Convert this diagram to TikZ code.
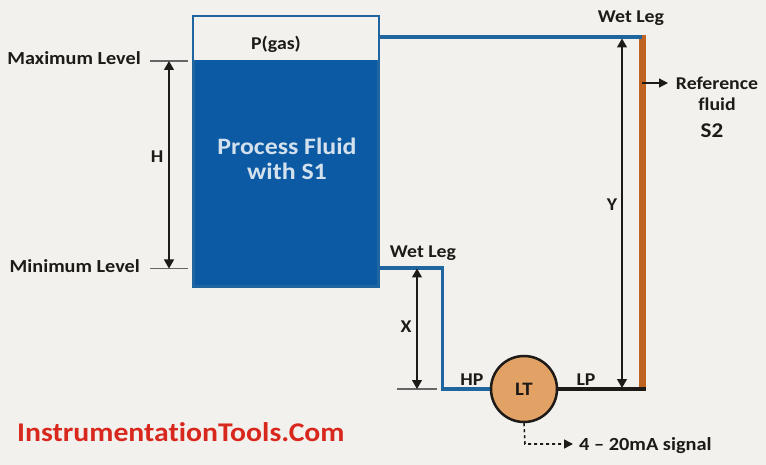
\documentclass[tikz,border=0pt]{standalone}
\usepackage{xcolor}
\usepackage{fontspec}
\setmainfont[FakeStretch=1.1, Ligatures=NoCommon]{Carlito}
\usetikzlibrary{positioning, arrows.meta, calc}
\definecolor{paper}{HTML}{F2F1EE}
\definecolor{tankblue}{HTML}{0C5AA3}
\definecolor{pipeblue}{HTML}{1F659F}
\definecolor{refbrown}{HTML}{BE6420}
\definecolor{ltorange}{HTML}{E3A265}
\definecolor{inkblack}{HTML}{1E1A18}
\definecolor{brandred}{HTML}{D8281E}
\tikzset{
  label text/.style={font=\bfseries\fontsize{18}{21}\selectfont, text=inkblack, inner sep=0pt},
  pipe/.style={draw=pipeblue, line width=3.5pt, line join=miter},
  tick/.style={draw=black!60, line width=1.1pt},
  dim/.style={draw=inkblack, line width=1.3pt, {Triangle[length=9pt,width=10pt]}-{Triangle[length=9pt,width=10pt]}}
}

\begin{document}
\begin{tikzpicture}[x=1pt, y=-1pt]
  \useasboundingbox[fill=paper] (0,0) rectangle (766,465);

  % tank
  \node[draw=pipeblue, fill=tankblue, line width=3pt, minimum width=185pt, minimum height=270pt,
        inner sep=0pt, outer sep=0pt] (tank) at (286,151.5) {};
  \node[fill=paper, minimum width=184pt, minimum height=42.5pt, inner sep=0pt] (gas) at (286,38.5) {};
  \node[label text] (gaslabel) at (276,44) {P(gas)};
  \node[align=center, font=\bfseries\fontsize{23.5}{25}\selectfont, text=tankblue!18!white, inner sep=0pt]
    (fluid) at (287,159) {Process Fluid\\with S1};

  % points on the lines
  \coordinate (maxleft) at (150,61);
  \coordinate (maxright) at (188,61);
  \coordinate (minleft) at (150,268.5);
  \coordinate (minright) at (188,268.5);
  \coordinate (topout) at (380,37);
  \coordinate (botout) at (380,268);
  \coordinate (bend) at (442.5,268);
  \coordinate (basebend) at (442.5,389);
  \coordinate (corner) at (642,389);
  \coordinate (reftop) at (642,35);
  \coordinate (xtick) at (397,389);
  \coordinate (xtickend) at (437,389);

  % transmitter
  \node[circle, draw=inkblack, fill=ltorange, line width=2.5pt, minimum size=66pt, inner sep=0pt,
        font=\bfseries\fontsize{19}{22}\selectfont, text=inkblack] (lt) at (524,389) {LT};

  % pipes
  \draw[pipe] (botout) -- (bend) -- (basebend) -- (lt.west);
  \draw[draw=refbrown, line width=7pt] (reftop) -- (corner);
  \draw[draw=inkblack, line width=3.5pt] (lt.east) -- ($(corner)+(3.5,0)$);
  \draw[pipe] (topout) -- (reftop |- topout);

  % levels
  \draw[tick] (maxleft) -- (maxright);
  \draw[tick] (minleft) -- (minright);
  \draw[tick] (xtick) -- (xtickend);
  \draw[dim] ($(maxleft)!0.5!(maxright)$) -- ($(minleft)!0.5!(minright)$);
  \draw[dim] ($(xtick)!0.5!(xtickend) + (0,-120.5)$) -- ($(xtick)!0.5!(xtickend)$);
  \draw[dim] (622,38.5) -- (622,388);

  % labels
  \node[label text, anchor=east, font=\bfseries\fontsize{18.4}{21}\selectfont] (maxlabel) at (141,58) {Maximum Level};
  \node[label text, anchor=east, font=\bfseries\fontsize{18.4}{21}\selectfont] (minlabel) at (140,266) {Minimum Level};
  \node[label text] (hlabel) at (157,157) {H};
  \node[label text] (xlabel) at (406,327) {X};
  \node[label text] (ylabel) at (612,205) {Y};
  \node[label text] (wettop) at (631,18) {Wet Leg};
  \node[label text] (wetbot) at (423,253) {Wet Leg};
  \node[label text] (hplabel) at (472,380) {HP};
  \node[label text] (lplabel) at (586,380) {LP};
  \node[align=center, font=\bfseries\fontsize{18}{21}\selectfont, text=inkblack, inner sep=0pt]
    (reflabel) at (717,94) {Reference\\fluid};
  \node[font=\bfseries\fontsize{21}{23}\selectfont, text=inkblack, inner sep=0pt] (s2label) at (712,131) {S2};
  \draw[draw=inkblack, line width=1.3pt, -{Triangle[length=9pt,width=9pt]}] (642,83) -- (668,83);

  % output signal
  \node[label text, anchor=west, font=\bfseries\fontsize{18.5}{21}\selectfont] (signal) at (579,446) {4 – 20mA signal};
  \coordinate (signalbend) at (525,444);
  \draw[draw=inkblack, line width=1.6pt, dashed, -{Triangle[length=9pt,width=9pt]}]
    (lt.south) -- (signalbend) -- ($(signal.west |- signalbend)+(-6,0)$);

  \node[anchor=west, font=\bfseries\fontsize{27}{31}\selectfont, text=brandred, inner sep=0pt] (brand) at (17,432) {InstrumentationTools.Com};
\end{tikzpicture}
\end{document}
